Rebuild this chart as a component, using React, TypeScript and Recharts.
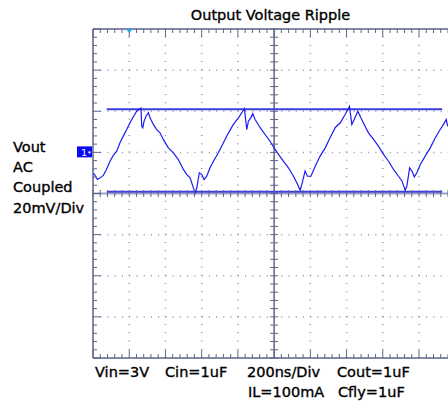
import { LineChart, Line, XAxis, YAxis, ReferenceLine, ReferenceDot } from 'recharts'

// scope capture, time in ns, Vout ripple in mV (AC coupled)
const TIME_NS = [
  2, 9, 24, 39, 57, 72, 94, 112, 131, 149, 167, 186, 204, 223, 241, 265, 269, 275, 282, 293,
  306, 315, 333, 352, 370, 388, 416, 444, 471, 499, 518, 536, 551, 564, 573, 587, 601, 613, 628, 646,
  665, 692, 720, 748, 775, 803, 827, 836, 849, 858, 871, 882, 895, 923, 950, 978, 1000, 1024, 1051, 1079,
  1107, 1125, 1144, 1153, 1171, 1184, 1203, 1227, 1254, 1282, 1309, 1337, 1365, 1392, 1416, 1429, 1442, 1462, 1479, 1497,
  1521, 1549, 1576, 1604, 1632, 1659, 1687, 1706, 1724, 1733, 1748, 1761, 1774, 1788, 1807, 1834, 1862, 1890, 1917, 1935,
  1950, 1958,
]
const VOUT_MV = [
  9.7, 9.2, 6.8, 7.6, 8.8, 11.3, 15.7, 18.5, 20.6, 24.7, 27.9, 31.1, 34.4, 37.3, 40.0, 41.5, 32.7, 32.0, 35.2, 37.6,
  39.3, 36.8, 33.6, 31.1, 29.5, 26.3, 22.2, 19.8, 16.5, 11.7, 9.2, 7.6, 3.6, 0.3, 2.8, 10.1, 9.2, 6.8, 8.4, 12.5,
  15.7, 19.8, 24.7, 29.5, 33.6, 36.8, 40.0, 41.2, 31.1, 35.2, 36.8, 38.9, 36.0, 32.0, 28.7, 25.4, 22.2, 19.0, 15.7, 12.5,
  8.4, 5.2, 1.6, 4.4, 10.9, 8.4, 8.4, 13.3, 18.2, 22.2, 27.1, 32.0, 34.4, 38.4, 42.3, 33.6, 36.0, 40.0, 36.8, 33.6,
  29.5, 26.3, 23.0, 19.0, 15.7, 11.7, 8.4, 6.0, 1.6, 3.6, 12.5, 10.9, 8.1, 10.1, 14.1, 18.2, 22.2, 27.1, 31.1, 33.6,
  36.0, 32.7,
]

// graticule: 200ns/div, 20mV/div
const DIV_T = [200, 400, 600, 800, 1200, 1400, 1600, 1800]
const DIV_MV = [-60, -40, -20, 20, 40, 60]
const SUB_T = Array.from({ length: 50 }, (_, i) => i * 40)
const SUB_MV = Array.from({ length: 41 }, (_, i) => -80 + i * 4)

const CURSOR_HI = 41.0
const CURSOR_LO = 0.8

const data = TIME_NS.map((t, i) => ({ t, v: VOUT_MV[i] }))

const GRID = '#5d6589'
const DOT = '#8c92b2'
const FONT = '"DejaVu Sans", Arial, sans-serif'

const tick = (dx1: number, dy1: number, dx2: number, dy2: number) => (p: any) => (
  <line x1={p.cx + dx1} y1={p.cy + dy1} x2={p.cx + dx2} y2={p.cy + dy2} stroke={GRID} strokeWidth={1} />
)

export default function App() {
  return (
    <div style={{ position: 'absolute', left: 0, top: 0, width: 448, height: 403, background: '#fff' }}>
      <LineChart width={448} height={403} data={data} margin={{ top: 29, right: 0, bottom: 45, left: 93 }}>
        <XAxis dataKey="t" type="number" domain={[0, 1960]} hide />
        <YAxis type="number" domain={[-80, 80]} hide />

        {DIV_T.map((t) => (
          <ReferenceLine key={`gv${t}`} x={t} stroke={DOT} strokeWidth={1.5} strokeDasharray="1 7.22" />
        ))}
        {DIV_MV.map((v) => (
          <ReferenceLine key={`gh${v}`} y={v} stroke={DOT} strokeWidth={1.5} strokeDasharray="1 6.24" />
        ))}

        <ReferenceLine x={0} stroke={GRID} strokeWidth={1.5} />
        <ReferenceLine y={80} stroke={GRID} strokeWidth={1.5} />
        <ReferenceLine y={-80} stroke={GRID} strokeWidth={1.5} />
        <ReferenceLine x={1000} stroke={GRID} strokeWidth={1.5} />
        <ReferenceLine y={0} stroke="#9ea3c4" strokeWidth={2} />

        {SUB_T.map((t) => {
          const major = t % 200 === 0
          return [
            <ReferenceDot key={`tt${t}`} x={t} y={80} shape={tick(0, 0, 0, major ? 8 : 4)} />,
            <ReferenceDot key={`tb${t}`} x={t} y={-80} shape={tick(0, 0, 0, major ? -8 : -4)} />,
            <ReferenceDot key={`tc${t}`} x={t} y={0} shape={tick(0, -3.5, 0, 3.5)} />,
          ]
        })}
        {SUB_MV.map((v) => {
          const major = v % 20 === 0
          return [
            <ReferenceDot key={`tl${v}`} x={0} y={v} shape={tick(0, 0, major ? 8 : 4, 0)} />,
            <ReferenceDot key={`tm${v}`} x={1000} y={v} shape={tick(-4, 0, 4, 0)} />,
          ]
        })}

        <ReferenceLine segment={[{ x: 76, y: CURSOR_HI }, { x: 1928, y: CURSOR_HI }]} stroke="#3c3ce0" strokeWidth={2} />
        <ReferenceLine segment={[{ x: 76, y: CURSOR_LO }, { x: 1928, y: CURSOR_LO }]} stroke="#3c3ce0" strokeWidth={2} />

        <ReferenceDot
          x={200}
          y={80}
          ifOverflow="visible"
          shape={(p: any) => (
            <polygon points={`${p.cx - 3.5},${p.cy} ${p.cx + 3.5},${p.cy} ${p.cx},${p.cy + 4}`} fill="#2aa3e2" />
          )}
        />
        <ReferenceDot
          x={0}
          y={20}
          ifOverflow="visible"
          shape={(p: any) => (
            <g>
              <rect x={p.cx - 16} y={p.cy - 6} width={15} height={11} fill="#0a0af0" />
              <text x={p.cx - 9} y={p.cy + 3.5} fill="#fff" fontSize={9} fontFamily={FONT} textAnchor="middle">
                1
              </text>
              <rect x={p.cx - 4.5} y={p.cy - 1} width={2} height={2} fill="#fff" />
            </g>
          )}
        />

        <Line
          dataKey="v"
          type="linear"
          stroke="#1c1cf2"
          strokeWidth={1.2}
          dot={false}
          isAnimationActive={false}
        />
      </LineChart>

      <svg
        width={448}
        height={403}
        style={{ position: 'absolute', left: 0, top: 0, pointerEvents: 'none' }}
        fontFamily={FONT}
        fontSize={14.5}
        fill="#000"
        stroke="#000"
        strokeWidth={0.35}
      >
        <text x={270.5} y={20} textAnchor="middle">Output Voltage Ripple</text>
        <text x={13} y={152}>Vout</text>
        <text x={13} y={172}>AC</text>
        <text x={13} y={192}>Coupled</text>
        <text x={13} y={213}>20mV/Div</text>
        <text x={95} y={377}>Vin=3V</text>
        <text x={165} y={377}>Cin=1uF</text>
        <text x={247} y={377}>200ns/Div</text>
        <text x={337} y={377}>Cout=1uF</text>
        <text x={248} y={397}>IL=100mA</text>
        <text x={338} y={397}>Cfly=1uF</text>
      </svg>
    </div>
  )
}
